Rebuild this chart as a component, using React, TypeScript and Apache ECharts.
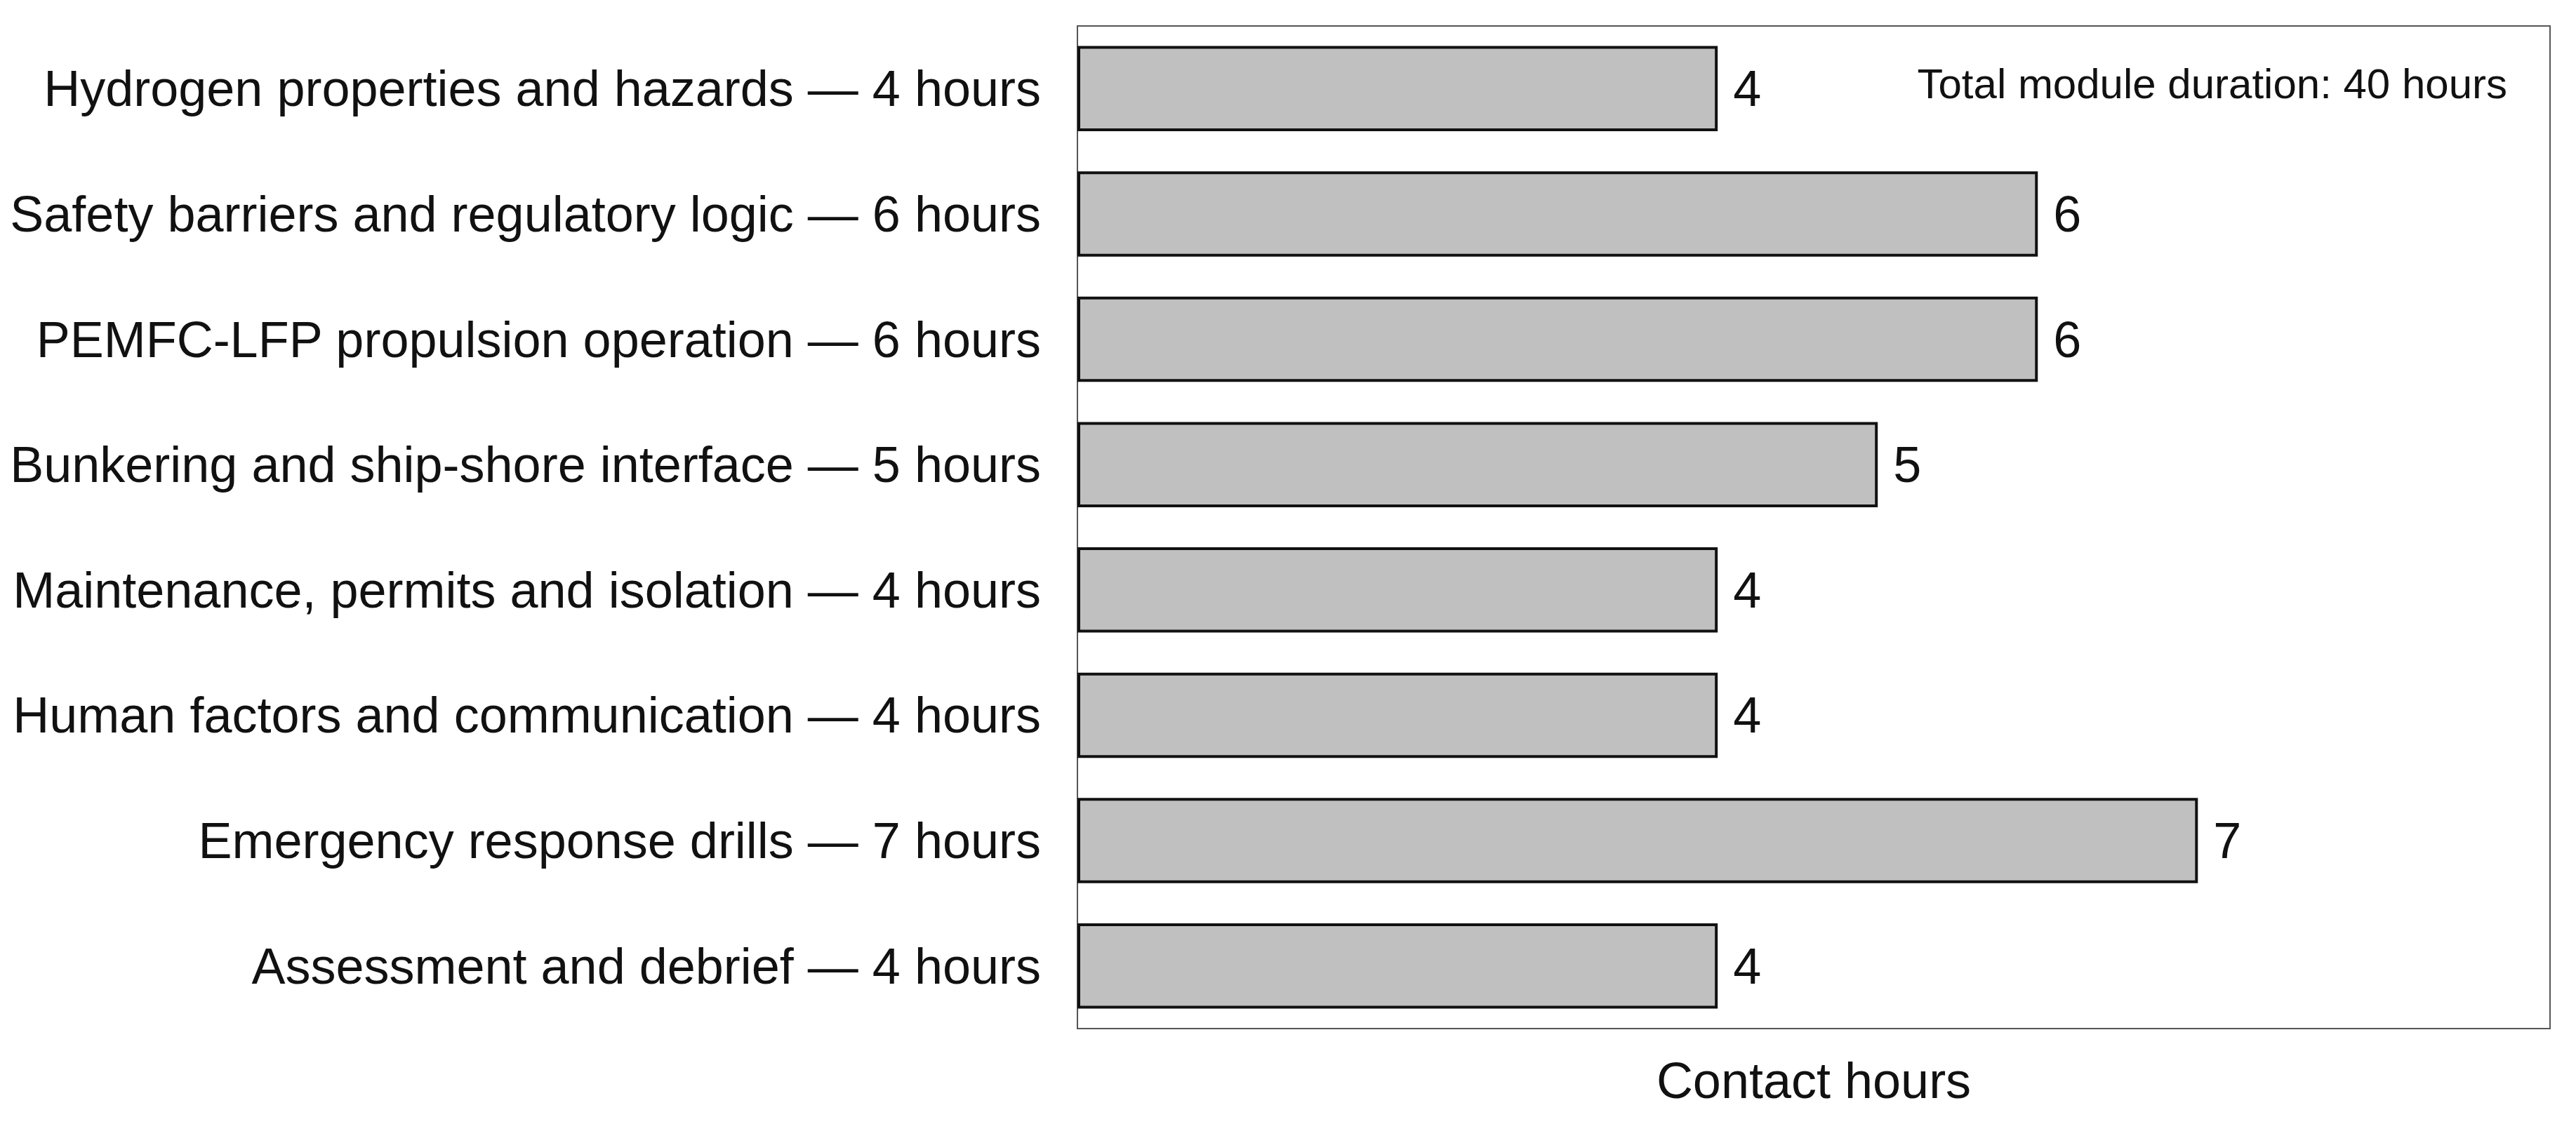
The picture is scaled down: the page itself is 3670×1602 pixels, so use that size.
import React, { useEffect, useRef } from "react";
import * as echarts from "echarts";

const topics = [
  "Hydrogen properties and hazards",
  "Safety barriers and regulatory logic",
  "PEMFC-LFP propulsion operation",
  "Bunkering and ship-shore interface",
  "Maintenance, permits and isolation",
  "Human factors and communication",
  "Emergency response drills",
  "Assessment and debrief",
];
const hours = [4, 6, 6, 5, 4, 4, 7, 4];
const categories = topics.map((t, i) => `${t} — ${hours[i]} hours`);
const annotation = "Total module duration: 40 hours";
const axisName = "Contact hours";

const FONT = "Liberation Sans, Arial, Helvetica, sans-serif";

export default function App() {
  const ref = useRef<HTMLDivElement>(null);
  useEffect(() => {
    document.body.style.margin = "0";
    const chart = echarts.init(ref.current!, undefined, { renderer: "svg" });
    chart.setOption({
      animation: false,
      backgroundColor: "#ffffff",
      grid: {
        left: 1535,
        right: 37,
        top: 37,
        bottom: 136,
        show: true,
        borderColor: "#555555",
        borderWidth: 2,
        backgroundColor: "transparent",
      },
      xAxis: {
        type: "value",
        min: 0,
        max: 9.2,
        axisLabel: { show: false },
        axisTick: { show: false },
        axisLine: { show: false },
        splitLine: { show: false },
        name: axisName,
        nameLocation: "middle",
        nameGap: 38,
        nameTextStyle: { fontFamily: FONT, fontSize: 72, color: "#111", verticalAlign: "top" },
      },
      yAxis: {
        type: "category",
        data: categories,
        inverse: true,
        axisLabel: {
          fontFamily: FONT,
          fontSize: 72,
          color: "#111",
          margin: 52,
        },
        axisTick: { show: false },
        axisLine: { show: false },
        splitLine: { show: false },
      },
      series: [
        {
          type: "bar",
          data: hours,
          barCategoryGap: "32%",
          itemStyle: {
            color: "#c0c0c0",
            borderColor: "#111",
            borderWidth: 4,
          },
          label: {
            show: true,
            position: "right",
            distance: 22,
            fontFamily: FONT,
            fontSize: 72,
            color: "#111",
          },
        },
      ],
      graphic: [
        {
          type: "text",
          x: 3572,
          y: 119,
          style: {
            text: annotation,
            fontFamily: FONT,
            fontSize: 60,
            fill: "#111",
            textAlign: "right",
            textVerticalAlign: "middle",
          },
        },
      ],
    });
    return () => chart.dispose();
  }, []);
  return (
    <div
      ref={ref}
      style={{ position: "absolute", left: 0, top: 0, width: 3670, height: 1602 }}
    />
  );
}
